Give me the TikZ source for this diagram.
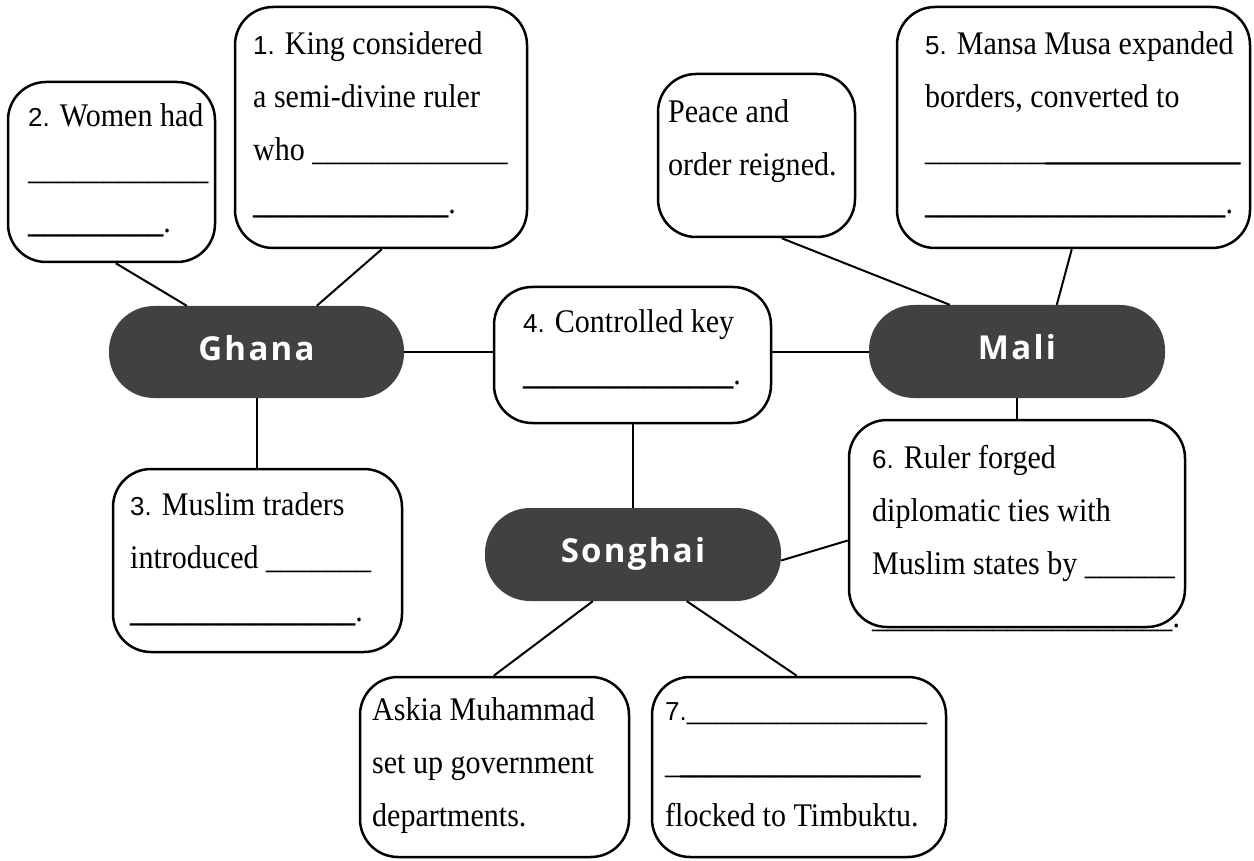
\documentclass[tikz,border=0pt]{standalone}
\usepackage{fontspec}
\setmainfont{Liberation Serif}[FakeStretch=0.91]
\newfontfamily\numfont{Liberation Sans}
\newfontfamily\pillfont{Open Sans}[LetterSpace=7]
\definecolor{pillgray}{RGB}{65,65,65}
\ExplSyntaxOn
\cs_new:Npn \blk #1 {\prg_replicate:nn{#1}{\_}}
\ExplSyntaxOff
\newcommand\nlab[1]{{\numfont\fontsize{26}{53}\selectfont #1}}
\newcommand\bblk[1]{\textbf{\blk{#1}}}
\newcommand\boxlines[1]{\parbox[t]{400pt}{\fontsize{33}{53}\selectfont\raggedright #1}}
\tikzset{
  box/.style={draw, line width=2.5pt, rounded corners=38pt, inner sep=0pt},
  pill/.style={fill=pillgray, rounded corners=45pt, inner sep=0pt, text=white,
    text height=24pt, text depth=8pt,
    font=\pillfont\bfseries\fontsize{33}{36}\selectfont},
  txt/.style={inner sep=0pt, anchor=base west},
  link/.style={line width=2pt}
}
\begin{document}
\begin{tikzpicture}[x=1pt,y=-1pt]
\fill[white] (0,0) rectangle (1254,861);
\useasboundingbox (0,0) rectangle (1254,861);

% boxes
\node[box, minimum width=207pt, minimum height=180pt] (b2) at (111.5,172) {};
\node[box, minimum width=292pt, minimum height=241pt] (b1) at (381,127.5) {};
\node[box, minimum width=197pt, minimum height=163pt] (bp) at (756.5,155.5) {};
\node[box, minimum width=353pt, minimum height=241pt] (b5) at (1073.5,127.5) {};
\node[box, minimum width=277pt, minimum height=136pt] (b4) at (632.5,355) {};
\node[box, minimum width=289pt, minimum height=183pt] (b3) at (257.5,560.5) {};
\node[box, minimum width=336pt, minimum height=207pt] (b6) at (1017,523.5) {};
\node[box, minimum width=269pt, minimum height=180pt] (ba) at (494.5,767) {};
\node[box, minimum width=294pt, minimum height=180pt] (b7) at (799,767) {};

% pills
\node[pill, minimum width=295pt, minimum height=92pt] (ghana) at (256.5,352) {Ghana};
\node[pill, minimum width=296pt, minimum height=93pt] (mali) at (1017,351.5) {Mali};
\node[pill, minimum width=296pt, minimum height=93pt] (songhai) at (633,554.5) {Songhai};

% texts
\node[txt] (t1) at (253,55) {\boxlines{\nlab{1.} King considered\\a semi-divine ruler\\who \blk{13}\\\bblk{13}.}};
\node[txt] (t2) at (28,127) {\boxlines{\nlab{2.} Women had\\\blk{12}\\\bblk{9}.}};
\node[txt] (tp) at (668,123) {\boxlines{Peace and\\order reigned.}};
\node[txt] (t5) at (925,55) {\boxlines{\nlab{5.} Mansa Musa expanded\\borders, converted to\\\blk{8}\bblk{13}\\\bblk{20}.}};
\node[txt] (t4) at (523,332) {\boxlines{\nlab{4.} Controlled key\\\bblk{14}.}};
\node[txt] (t3) at (130,515) {\boxlines{\nlab{3.} Muslim traders\\introduced \blk{7}\\\bblk{15}.}};
\node[txt] (t6) at (872,468) {\boxlines{\nlab{6.} Ruler forged\\diplomatic ties with\\Muslim states by \blk{6}\\\blk{20}.}};
\node[txt] (ta) at (372,720) {\boxlines{Askia Muhammad\\set up government\\departments.}};
\node[txt] (t7) at (665,720) {\boxlines{\nlab{7.}\blk{16}\\\blk{1}\bblk{16}\\flocked to Timbuktu.}};

% connectors
\draw[link] ([xshift=109pt]b2.south west) -- ([xshift=78pt]ghana.north west);
\draw[link] ([xshift=148pt]b1.south west) -- ([xshift=208pt]ghana.north west);
\draw[link] (ghana.east) -- (b4.west |- ghana.east);
\draw[link] (b4.east |- mali.west) -- (mali.west);
\draw[link] ([xshift=125pt]bp.south west) -- ([xshift=81pt]mali.north west);
\draw[link] ([xshift=176pt]b5.south west) -- ([xshift=188pt]mali.north west);
\draw[link] (mali.south) -- (b6.north);
\draw[link] (ghana.south) -- (b3.north -| ghana.south);
\draw[link] (b4.south) -- (songhai.north -| b4.south);
\draw[link] ([yshift=-6pt]songhai.east) -- ([yshift=-17pt]b6.west);
\draw[link] ([xshift=108pt]songhai.south west) -- ([xshift=135pt]ba.north west);
\draw[link] ([xshift=202pt]songhai.south west) -- ([xshift=146pt]b7.north west);
\end{tikzpicture}
\end{document}
